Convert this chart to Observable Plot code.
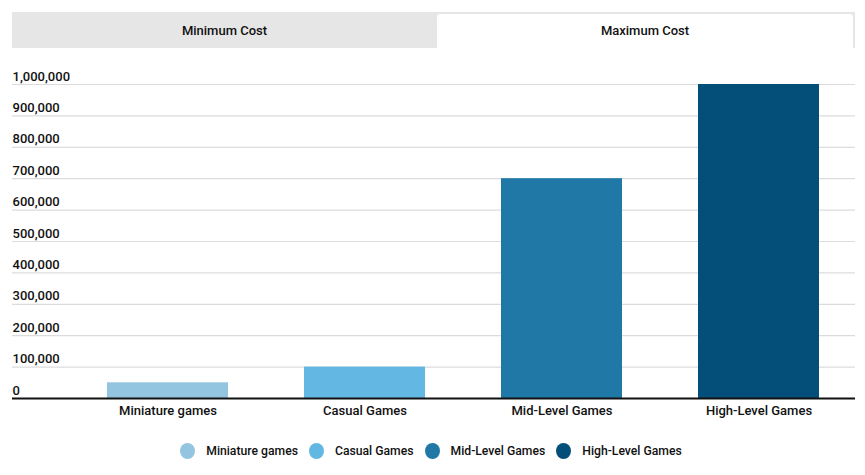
<!DOCTYPE html>
<html>
<head>
<meta charset="utf-8">
<script src="https://cdn.jsdelivr.net/npm/d3@7"></script>
<script src="https://cdn.jsdelivr.net/npm/@observablehq/plot@0.6"></script>
<style>
  html, body { margin: 0; padding: 0; background: #fff; font-family: Roboto, "Noto Sans", sans-serif; color: #111; }
  #wrap { width: 865px; height: 475px; overflow: hidden; padding-top: 12px; box-sizing: border-box; }
  .tabs { margin-left: 12px; width: 843px; height: 36px; background: #e6e6e6; display: flex; align-items: flex-end; }
  .tab { height: 36px; line-height: 37px; text-align: center; font-size: 13px; font-weight: 500; }
  .tab.min { width: 425px; }
  .tab.max { width: 416px; height: 34px; line-height: 33px; background: #fff; border-radius: 3px 3px 0 0; }
  #chart { height: 375px; margin-top: 2px; }
  #chart svg { display: block; }
  .legend { width: 862px; display: flex; justify-content: center; font-size: 12.2px; font-weight: 500; margin-top: 18px; }
  .item { display: flex; align-items: center; margin: 0 5.5px; }
  .dot { width: 15px; height: 16px; border-radius: 50%; margin-right: 11px; display: inline-block; }
</style>
</head>
<body>
<div id="wrap">
  <div class="tabs">
    <div class="tab min">Minimum Cost</div>
    <div class="tab max">Maximum Cost</div>
  </div>
  <div id="chart"></div>
  <div class="legend" id="legend"></div>
</div>
<script>
const categories = ["Miniature games", "Casual Games", "Mid-Level Games", "High-Level Games"];
const maxCost = [50000, 100000, 700000, 1000000];
const colors = ["#93c4e0", "#62b7e3", "#1f78a6", "#044f79"];
const yTicks = [0, 100000, 200000, 300000, 400000, 500000, 600000, 700000, 800000, 900000, 1000000];

const data = categories.map((c, i) => ({category: c, value: maxCost[i]}));
const fmt = d3.format(",");

const chart = Plot.plot({
  width: 865,
  height: 375,
  marginTop: 34,
  marginBottom: 27,
  marginLeft: 12,
  marginRight: 10,
  style: {fontFamily: "Roboto, sans-serif", fontSize: "13px", fontWeight: 500, color: "#111"},
  x: {domain: categories, range: [69, 857], paddingInner: 0.386, paddingOuter: 0.193, axis: null},
  y: {domain: [0, 1000000], axis: null},
  color: {domain: categories, range: colors},
  marks: [
    Plot.ruleY(yTicks.filter(d => d > 0), {stroke: "#dcdcdc", strokeWidth: 1.2}),
    Plot.barY(data, {x: "category", y: "value", fill: "category"}),
    Plot.ruleY([0], {stroke: "#111", strokeWidth: 2}),
    Plot.text(yTicks, {y: d => d, text: d => fmt(d), frameAnchor: "left", textAnchor: "start", dy: -8, fill: "#111"}),
    Plot.axisX({tickSize: 0, tickPadding: 7, fill: "#111", label: null})
  ]
});
document.getElementById("chart").appendChild(chart);

const legend = document.getElementById("legend");
categories.forEach((c, i) => {
  const it = document.createElement("div");
  it.className = "item";
  it.innerHTML = `<span class="dot" style="background:${colors[i]}"></span><span>${c}</span>`;
  legend.appendChild(it);
});
</script>
</body>
</html>
